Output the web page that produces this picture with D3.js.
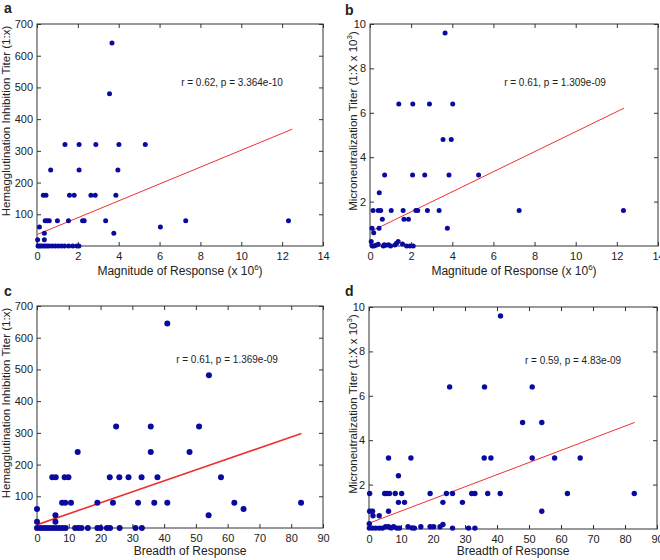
<!DOCTYPE html>
<html><head><meta charset="utf-8">
<script src="https://cdn.jsdelivr.net/npm/d3@7"></script>
<style>
html,body{margin:0;padding:0;background:#fff;}
svg text{font-family:"Liberation Sans",Arial,sans-serif;fill:#222;}
</style></head>
<body><svg id="chart" width="660" height="560"></svg>
<script>
// ---------- data ----------
// Panel a: Magnitude (x10^6) vs HI titer
const aX = [3.67,3.55, 1.37,2.06,2.88,4.01,5.30, 0.67,2.06,3.96,
  0.31,0.44,1.59,1.82,2.64,2.85,3.86,
  0.40,0.50,0.60,1.00,1.54,2.23,2.31,3.36,7.28,12.31,
  0.12,6.04, 0.36,3.76, 0.03,0.36,
  0.05,0.12,0.2,0.3,0.4,0.5,0.6,0.75,0.9,1.05,1.2,1.35,1.55,1.75,1.95,2.05];
const aY = [640,480, 320,320,320,320,320, 240,240,240,
  160,160,160,160,160,160,160,
  80,80,80,80,80,80,80,80,80,80,
  60,60, 40,40, 20,20,
  0,0,0,0,0,0,0,0,0,0,0,0,0,0,0,0];
// Panel b: Magnitude (x10^6) vs MN titer (x10^3)
const bX = [3.65, 1.40,2.08,2.89,4.02, 3.55,3.95, 0.71,2.07,2.66,3.84,5.28, 0.45,
  0.15,0.40,0.52,1.03,1.61,2.23,2.32,2.79,3.36,7.25,12.32,
  0.60,1.65,1.87, 0.10,0.44,3.76, 0.18, 0.06,
  0.11,0.19,0.29,0.40,0.65,0.69,0.77,0.90,1.00,1.21,1.29,1.37,1.58,1.78,1.94,2.10];
const bY = [9.6, 6.4,6.4,6.4,6.4, 4.8,4.8, 3.2,3.2,3.2,3.2,3.2, 2.4,
  1.6,1.6,1.6,1.6,1.6,1.6,1.6,1.6,1.6,1.6,1.6,
  1.2,1.2,1.2, 0.8,0.8,0.8, 0.6, 0.2,
  0.0,0.0,0.03,0.08,0.0,0.06,0.03,0.06,0.0,0.05,0.12,0.2,0.09,0.0,0.0,0.0];
// Panel c: Breadth vs HI titer
const cX = [41.0,54.1, 24.9,35.8,51.0, 12.8,35.8,48.0,
  4.8,5.9,8.7,9.9,22.9,25.9,28.8,32.9,37.9,57.9,
  7.9,8.9,10.7,19.0,23.9,31.8,36.9,41.0,62.1,83.1,
  0.0,65.0, 5.8,54.0, 0.0,5.8,
  0,1,2,3,4,5,6,7,8,9,12,13,14,16,19,20,22,23,26,31,33];
const cY = [645,482, 320,320,320, 240,240,240,
  160,160,160,160,160,160,160,160,160,160,
  80,80,80,80,80,80,80,80,80,80,
  60,60, 40,40, 20,20,
  0,0,0,0,0,0,0,0,0,0,0,0,0,0,0,0,0,0,0,0,0];
// Panel d: Breadth vs MN titer (x10^3)
const dX = [41.1, 25.2,36.1,51.0, 48.0,54.0,
  6.1,13.1,36.0,38.1,51.0,58.0,66.0, 9.2,
  0.2,4.9,5.6,6.4,8.2,10.2,19.1,24.2,26.1,32.1,33.1,37.1,41.0,62.0,82.9,
  9.2,11.1,23.1,29.2, 0.2,1.1,6.1,54.0, 1.25,3.2, 0.1,23.1,
  0.1,1.1,2.1,3.2,4.2,5.2,6.1,6.9,7.7,8.7,9.5,12.2,13.5,14.2,16.2,19.1,20.2,22.2,26.1,31.1,33.1];
const dY = [9.6, 6.4,6.4,6.4, 4.8,4.8,
  3.2,3.2,3.2,3.2,3.2,3.2,3.2, 2.4,
  1.6,1.6,1.6,1.6,1.6,1.6,1.6,1.6,1.6,1.6,1.6,1.6,1.6,1.6,1.6,
  1.2,1.2,1.2,1.2, 0.8,0.8,0.8,0.8, 0.6,0.6, 0.24,0.2,
  0.04,0.04,0.04,0.04,0.04,0.1,0.1,0.05,0.1,0.04,0.04,0.1,0.05,0.04,0.1,0.1,0.1,0.1,0.04,0.04,0.04];

// fitted lines: [x0, x1, intercept, slope]
const fitA = [0.03, 12.5, 36, 26.6];
const fitB = [0.08, 12.35, 0.64, 0.451];
const fitC = [0.1, 83.2, 10.3, 3.46];
const fitD = [0.2, 83.0, 0.26, 0.0547];

const statTexts = ["r = 0.62, p = 3.364e-10","r = 0.61, p = 1.309e-09","r = 0.61, p = 1.369e-09","r = 0.59, p = 4.83e-09"];
const panelLetters = ["a","b","c","d"];
const xTicksMag = [0,2,4,6,8,10,12,14];
const xTicksBre = [0,10,20,30,40,50,60,70,80,90];
const yTicksHI = [100,200,300,400,500,600,700];
const yTicksMN = [2,4,6,8,10];

// ---------- layout ----------
const svg = d3.select("#chart");
const panels = [
  {x:aX,y:aY,fit:fitA,L:37,R:323,T:24,B:246,xd:[0,14],yd:[0,700],xt:xTicksMag,yt:yTicksHI,xlab:"mag",ylab:"hi",letter:[4,13],stat:[232,86],r:2.5,lw:1,ylx:10,xlo:0,xly:29},
  {x:bX,y:bY,fit:fitB,L:370,R:658,T:24,B:246,xd:[0,14],yd:[0,10],xt:xTicksMag,yt:yTicksMN,xlab:"mag",ylab:"mn",letter:[345,15],stat:[555,86],r:2.5,lw:1,ylx:357,xlo:0,xly:29},
  {x:cX,y:cY,fit:fitC,L:37,R:323,T:306,B:528,xd:[0,90],yd:[0,700],xt:xTicksBre,yt:yTicksHI,xlab:"bre",ylab:"hi",letter:[4,296],stat:[227,363],r:3,lw:1.6,ylx:10,xlo:10,xly:27},
  {x:dX,y:dY,fit:fitD,L:369,R:657,T:307,B:529,xd:[0,90],yd:[0,10],xt:xTicksBre,yt:yTicksMN,xlab:"bre",ylab:"mn",letter:[345,296],stat:[573,364],r:2.7,lw:1,ylx:357,xlo:0,xly:26}
];

panels.forEach((p,i)=>{
  const g = svg.append("g");
  const xs = d3.scaleLinear().domain(p.xd).range([p.L,p.R]);
  const ys = d3.scaleLinear().domain(p.yd).range([p.B,p.T]);
  g.append("rect").attr("x",p.L).attr("y",p.T).attr("width",p.R-p.L).attr("height",p.B-p.T)
    .attr("fill","none").attr("stroke","#333").attr("stroke-width",1);
  const fmt = d3.format("d");
  const styleAxis = sel => { sel.select(".domain").remove(); sel.selectAll("line").attr("stroke","#333");
    sel.selectAll("text").style("font-family","'Liberation Sans',Arial,sans-serif").style("font-size","11px").attr("fill","#222"); };
  g.append("g").attr("transform",`translate(0,${p.B})`)
    .call(d3.axisBottom(xs).tickValues(p.xt).tickFormat(fmt).tickSize(-4).tickPadding(6)).call(styleAxis);
  g.append("g").attr("transform",`translate(0,${p.T})`)
    .call(d3.axisTop(xs).tickValues(p.xt).tickFormat("").tickSize(-4)).call(styleAxis);
  g.append("g").attr("transform",`translate(${p.L},0)`)
    .call(d3.axisLeft(ys).tickValues(p.yt).tickFormat(fmt).tickSize(-4).tickPadding(4)).call(styleAxis);
  g.append("g").attr("transform",`translate(${p.R},0)`)
    .call(d3.axisRight(ys).tickValues(p.yt).tickFormat("").tickSize(-4)).call(styleAxis);

  const f = p.fit;
  g.append("line").attr("x1",xs(f[0])).attr("y1",ys(f[2]+f[3]*f[0]))
    .attr("x2",xs(f[1])).attr("y2",ys(f[2]+f[3]*f[1]))
    .attr("stroke","#f03030").attr("stroke-width",p.lw);
  g.selectAll("circle").data(d3.range(p.x.length)).join("circle")
    .attr("cx",k=>xs(p.x[k])).attr("cy",k=>ys(p.y[k])).attr("r",p.r).attr("fill","#0a0aa0");
  g.append("text").attr("x",p.stat[0]).attr("y",p.stat[1]).attr("text-anchor","middle")
    .style("font-size","10px").text(statTexts[i]);
  g.append("text").attr("x",p.letter[0]).attr("y",p.letter[1]).style("font-size","14px").style("font-weight","bold")
    .attr("fill","#111").text(panelLetters[i]);
  const xl = g.append("text").attr("x",(p.L+p.R)/2+p.xlo).attr("y",p.B+p.xly).attr("text-anchor","middle").style("font-size","12px");
  if (p.xlab==="mag") {
    xl.append("tspan").text("Magnitude of Response (x 10");
    xl.append("tspan").attr("dy",-5).style("font-size","8px").text("6");
    xl.append("tspan").attr("dy",5).text(")");
  } else xl.text("Breadth of Response");
  const yl = g.append("text").attr("transform",`translate(${p.ylx},${(p.T+p.B)/2-14}) rotate(-90)`)
    .attr("text-anchor","middle").style("font-size","11.5px");
  if (p.ylab==="hi") yl.text("Hemagglutination Inhibition Titer (1:x)");
  else {
    yl.append("tspan").text("Microneutralization Titer (1:X x 10");
    yl.append("tspan").attr("dy",-5).style("font-size","8px").text("3");
    yl.append("tspan").attr("dy",5).text(")");
  }
});
</script></body></html>
